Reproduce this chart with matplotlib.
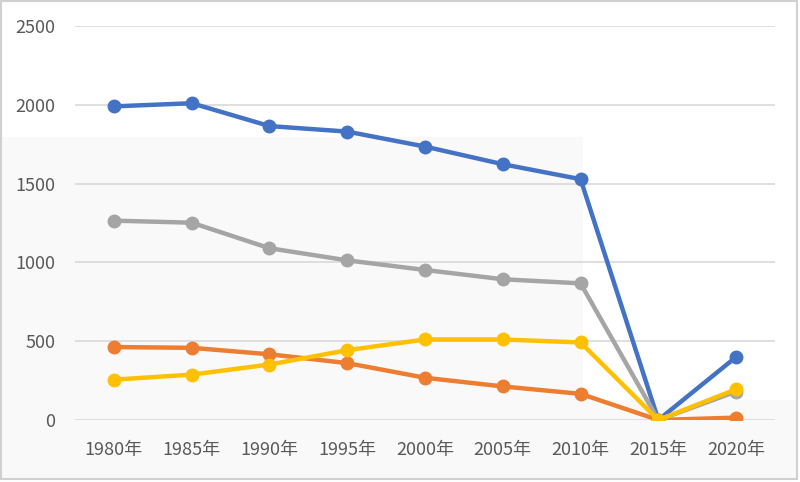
import matplotlib
matplotlib.use("Agg")
import matplotlib.pyplot as plt
from matplotlib.patches import Rectangle

plt.rcParams['font.family'] = ['Noto Sans CJK JP', 'DejaVu Sans']

categories = ["1980年", "1985年", "1990年", "1995年", "2000年", "2005年", "2010年", "2015年", "2020年"]
series_blue = [1990, 2010, 1865, 1830, 1735, 1623, 1528, 0, 400]
series_orange = [463, 458, 417, 361, 268, 213, 166, 0, 15]
series_gray = [1265, 1252, 1090, 1013, 952, 893, 867, 0, 180]
series_yellow = [256, 288, 352, 443, 511, 511, 492, 0, 195]
y_ticks = [0, 500, 1000, 1500, 2000, 2500]

W, H = 800, 482
fig = plt.figure(figsize=(W / 100, H / 100), dpi=100)
fig.patch.set_facecolor("white")

def px_rect(x0, y0, x1, y1, **kw):
    r = Rectangle((x0 / W, 1 - y1 / H), (x1 - x0) / W, (y1 - y0) / H,
                  transform=fig.transFigure, **kw)
    fig.patches.append(r)

# faint off-white background regions from the screenshot
px_rect(0, 137, 583, 400, facecolor="#f9f9f9", edgecolor="none", zorder=-2)
px_rect(0, 400, 797, 478, facecolor="#f9f9f9", edgecolor="none", zorder=-2)
# outer border
px_rect(1, 1, 797, 479, facecolor="none", edgecolor="#d0d0d0", linewidth=1.5, zorder=-1)

ax = fig.add_axes([75 / W, 1 - 420 / H, 700 / W, 394 / H])
ax.set_facecolor("none")
ax.set_zorder(1)

x = list(range(len(categories)))
lw = 3.2
ms = 9
for vals, col in [(series_blue, "#4472C4"), (series_orange, "#ED7D31"),
                  (series_gray, "#A5A5A5"), (series_yellow, "#FFC000")]:
    ax.plot(x, vals, color=col, linewidth=lw, marker="o", markersize=ms,
            markeredgecolor=col, markerfacecolor=col, solid_capstyle="round",
            zorder=3)

ax.set_xlim(-0.5, len(categories) - 0.5)
ax.set_ylim(0, 2500)
ax.set_yticks(y_ticks)
ax.set_yticklabels([str(v) for v in y_ticks])
ax.set_xticks(x)
ax.set_xticklabels(categories)
ax.grid(axis="y", color="#d9d9d9", linewidth=1.2, zorder=1)
ax.set_axisbelow(True)
for s in ax.spines.values():
    s.set_visible(False)
ax.tick_params(axis="both", length=0, labelsize=13, labelcolor="#595959")
ax.tick_params(axis="y", pad=14)
ax.tick_params(axis="x", pad=15)

fig.savefig("out.png", dpi=100)
